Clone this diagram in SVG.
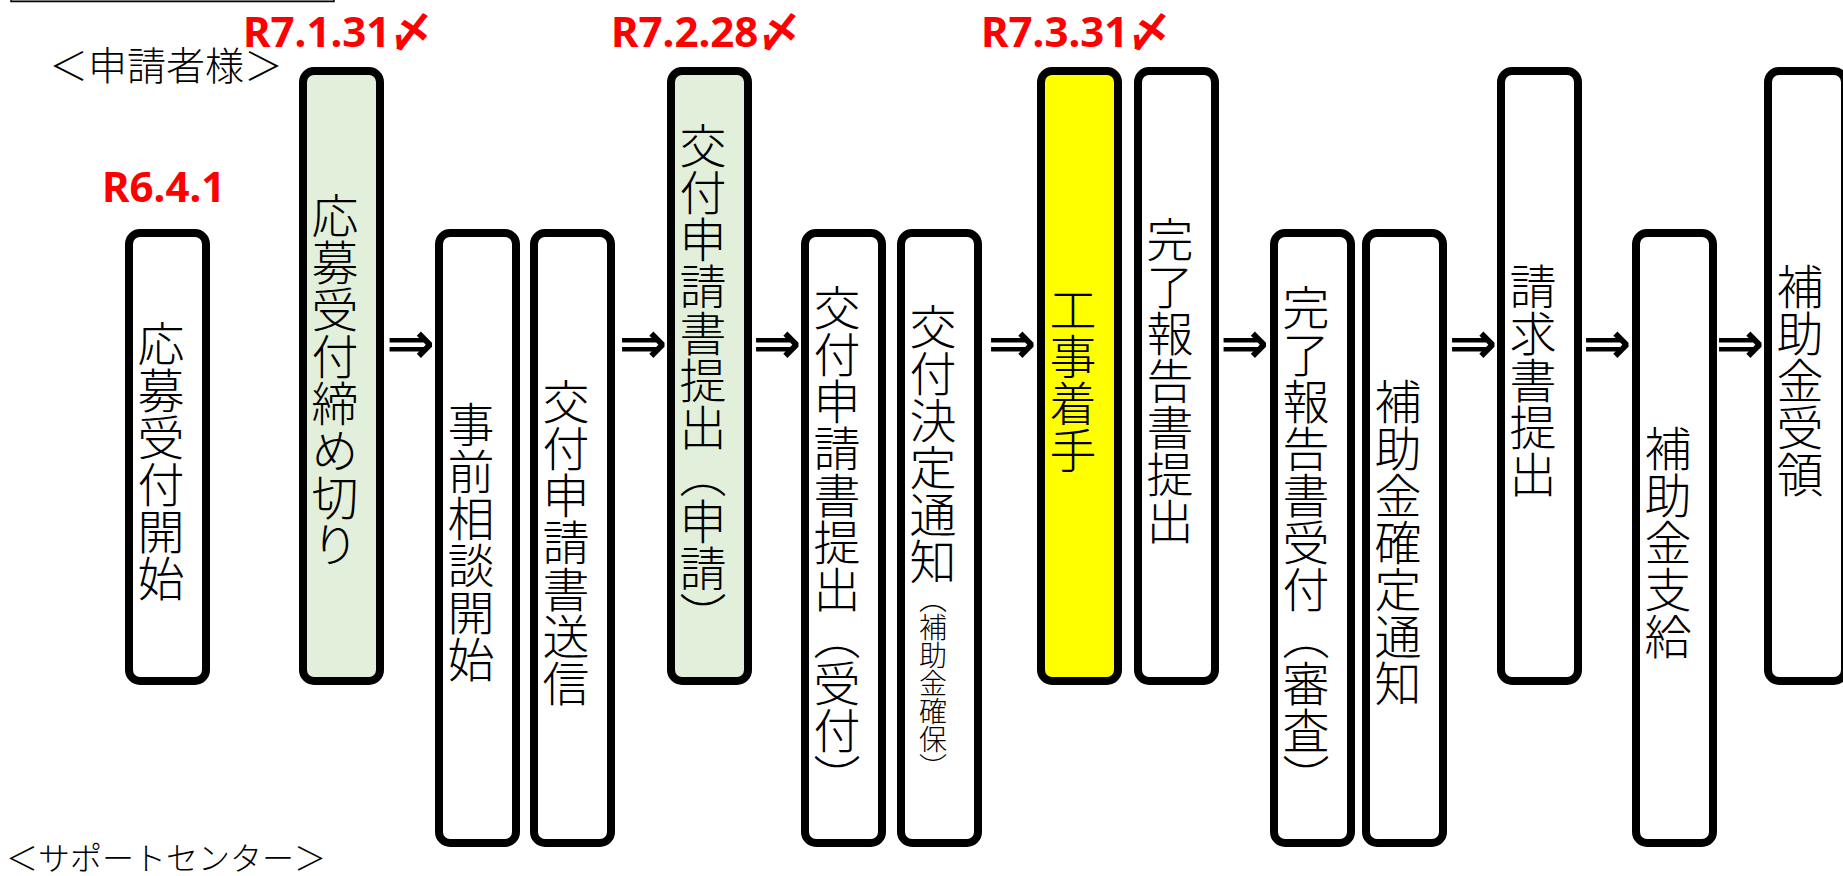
<svg xmlns="http://www.w3.org/2000/svg" width="1843" height="876" viewBox="0 0 1843 876">
<style>
.box{stroke:#000;stroke-width:8;fill:#fff}
.g{fill:#E2EFDA}
.y{fill:#FFFF00}
.vt{font-family:"Noto Sans CJK JP","Noto Sans CJK SC",sans-serif;font-weight:300;font-size:47px;fill:#000;writing-mode:vertical-rl;text-anchor:middle}
.sm{font-size:28px}
.red{font-family:"Noto Sans","Noto Sans CJK JP",sans-serif;font-weight:700;font-size:42px;fill:#FF0000}
.lbl{font-family:"Noto Sans CJK JP",sans-serif;font-weight:300;fill:#000;text-anchor:middle}
.arr{font-family:"DejaVu Sans",sans-serif;font-weight:700;font-size:58px;fill:#000;text-anchor:middle;dominant-baseline:central}
</style>
<rect x="11" y="-10" width="323" height="11.5" fill="#a6a6a6" stroke="#000" stroke-width="1.5"/>
<text class="lbl" x="166" y="80" font-size="39">＜申請者様＞</text>
<text class="lbl" x="166" y="870" font-size="32">＜サポートセンター＞</text>
<text class="red" x="102" y="202">R6.4.1</text>
<text class="red" x="243" y="46.5">R7.1.31〆</text>
<text class="red" x="611" y="47">R7.2.28〆</text>
<text class="red" x="981" y="47">R7.3.31〆</text>
<g id="connectors">
<text class="arr" x="410.5" y="343">⇒</text>
<text class="arr" x="643" y="343">⇒</text>
<text class="arr" x="777" y="343">⇒</text>
<text class="arr" x="1012" y="343">⇒</text>
<text class="arr" x="1244.5" y="343">⇒</text>
<text class="arr" x="1473" y="343">⇒</text>
<text class="arr" x="1607" y="343">⇒</text>
<text class="arr" x="1740" y="343">⇒</text>
</g>
<g id="n1"><rect class="box" x="129" y="233" width="77" height="448" rx="11"/><text class="vt" x="161" y="461">応募受付開始</text></g>
<g id="n2"><rect class="box g" x="303" y="71" width="77" height="610" rx="11"/><text class="vt" x="335" y="380">応募受付締め切り</text></g>
<g id="n3"><rect class="box" x="439" y="233" width="77" height="610" rx="11"/><text class="vt" x="471" y="542">事前相談開始</text></g>
<g id="n4"><rect class="box" x="534" y="233" width="77" height="610" rx="11"/><text class="vt" x="566" y="542">交付申請書送信</text></g>
<g id="n5"><rect class="box g" x="671" y="71" width="77" height="610" rx="11"/><text class="vt" x="703" y="380">交付申請書提出（申請）</text></g>
<g id="n6"><rect class="box" x="805" y="233" width="77" height="610" rx="11"/><text class="vt" x="837" y="542">交付申請書提出（受付）</text></g>
<g id="n7"><rect class="box" x="901" y="233" width="77" height="610" rx="11"/><text class="vt" x="933" y="542">交付決定通知<tspan class="sm">（補助金確保）</tspan></text></g>
<g id="n8"><rect class="box y" x="1041" y="71" width="77" height="610" rx="11"/><text class="vt" x="1073" y="380">工事着手</text></g>
<g id="n9"><rect class="box" x="1138" y="71" width="77" height="610" rx="11"/><text class="vt" x="1170" y="380">完了報告書提出</text></g>
<g id="n10"><rect class="box" x="1274" y="233" width="77" height="610" rx="11"/><text class="vt" x="1306" y="542">完了報告書受付（審査）</text></g>
<g id="n11"><rect class="box" x="1366" y="233" width="77" height="610" rx="11"/><text class="vt" x="1398" y="542">補助金確定通知</text></g>
<g id="n12"><rect class="box" x="1501" y="71" width="77" height="610" rx="11"/><text class="vt" x="1533" y="380">請求書提出</text></g>
<g id="n13"><rect class="box" x="1636" y="233" width="77" height="610" rx="11"/><text class="vt" x="1668" y="542">補助金支給</text></g>
<g id="n14"><rect class="box" x="1768" y="71" width="77" height="610" rx="11"/><text class="vt" x="1800" y="380">補助金受領</text></g>
</svg>
